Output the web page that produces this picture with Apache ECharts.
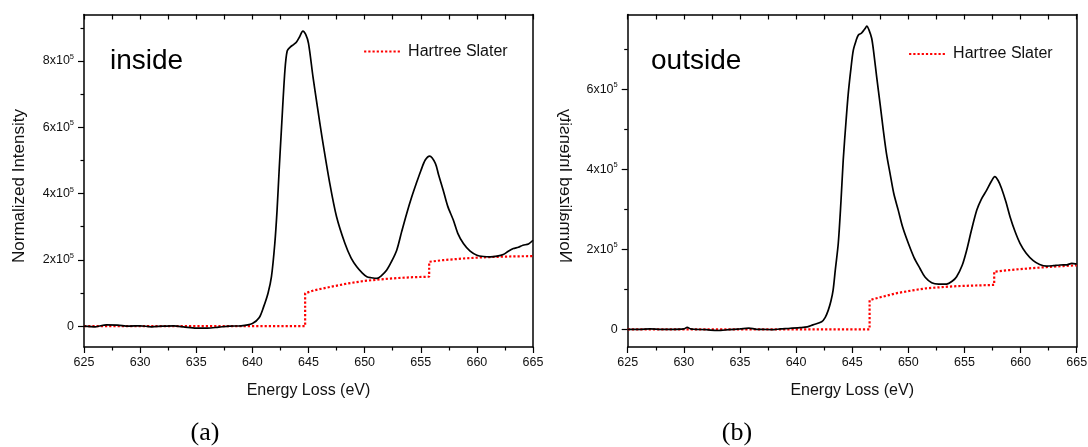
<!DOCTYPE html>
<html>
<head>
<meta charset="utf-8">
<script src="https://cdn.jsdelivr.net/npm/echarts@6/dist/echarts.min.js"></script>
<style>
html,body{margin:0;padding:0;background:#fff;}
#chart{width:1088px;height:447px;}
</style>
</head>
<body>
<div id="chart"></div>
<script>
// ---- data ----
const panelTags = ['inside', 'outside'];
const panelLetters = ['(a)', '(b)'];
const xTickValues = [625, 630, 635, 640, 645, 650, 655, 660, 665];
const leftYTicks = [0, 200000, 400000, 600000, 800000];
const leftYMinor = [100000, 300000, 500000, 700000, 900000];
const rightYTicks = [0, 200000, 400000, 600000];
const rightYMinor = [100000, 300000, 500000, 700000];

const insideE = [625,626,627,628,629,630,631,632,633,634,635,636,637,638,639,640,640.6,641.0,641.4,641.7,642.0,642.2,642.4,642.6,642.9,643.1,643.35,643.7,643.95,644.2,644.5,644.75,645.0,645.4,645.8,646.2,646.9,647.5,648.25,648.8,649.3,649.8,650.2,650.6,651.1,651.5,651.97,652.4,652.86,653.3,653.75,654.2,654.6,655.0,655.4,655.8,656.3,656.6,657.0,657.4,657.9,658.3,658.8,659.4,660.0,660.6,661.2,661.8,662.35,662.8,663.25,663.7,664.1,664.6,665];
const insideV = [0,-2000,4000,3000,0,1000,-2000,0,1000,-3000,-6000,-6000,-3000,0,1000,8000,25000,58000,100000,149000,250000,350000,480000,601000,772000,830000,841000,850000,858000,872000,890000,880000,853000,752000,660000,571000,430000,330000,249000,205000,179000,160000,149000,146000,144000,152000,169000,195000,229000,285000,340000,390000,430000,468000,501000,513000,491000,455000,410000,362000,320000,280000,249000,226000,214000,210000,209000,211000,216000,226000,234000,238000,244000,248000,259000];

const insideHsE = [625,644.7,644.7,645.5,646.9,648.4,649.9,651.4,652.9,654.3,655.75,655.75,657,658.8,660.3,661.8,663.4,665];
const insideHsV = [0,0,99000,108000,118000,128000,136000,141000,145000,147500,149000,194000,199000,204000,207000,209000,210500,211000];

const outsideE = [625,626,627,628,629,630,630.3,630.6,631,632,633,634,635,635.8,636.5,637,638,638.6,639.3,640.35,641.0,641.5,642.28,642.6,642.87,643.1,643.3,643.5,643.76,644.0,644.2,644.45,644.65,644.9,645.1,645.35,645.55,645.8,645.99,646.15,646.3,646.5,646.74,646.95,647.18,647.5,647.77,648.05,648.37,648.7,649.1,649.5,650.0,650.5,651.04,651.5,652.08,652.7,653.4,653.9,654.3,654.8,655.2,655.6,656.1,656.5,656.98,657.4,657.7,658.0,658.3,658.7,659.06,659.5,659.95,660.5,661.13,661.7,662.33,662.9,663.5,664.1,664.56,665];
const outsideV = [0,0,1000,0,0,1000,5000,1000,0,-1000,-3000,-1000,1000,3000,0,0,-1000,1000,2000,4000,6000,11000,19000,30000,48000,70000,98000,150000,215000,320000,423000,520000,590000,655000,698000,722000,736000,740000,746000,752000,758000,748000,727000,685000,631000,560000,498000,440000,390000,340000,298000,255000,215000,180000,152000,130000,116500,113000,113000,120000,131500,160000,198000,245000,298000,325000,348000,370000,381500,372000,352500,318000,281500,245000,215000,190000,171500,162000,158000,159000,160750,161000,165000,163000];

const outsideHsE = [625,646.55,646.55,647.5,648.9,650.3,651.6,653,654.35,656,657.65,657.65,659,660.8,662.3,663.8,665];
const outsideHsV = [0,0,73000,80000,90000,97000,102500,105500,108000,109500,111000,144000,148000,152500,155500,158000,160000];

// ---- helpers ----
const FONT = '"Liberation Sans", Arial, sans-serif';
const zip = (a, b) => a.map((x, i) => [x, b[i]]);

function yLabel(v) {
  if (v === 0) return '{b|0}';
  return '{b|' + (v / 100000) + 'x10}{s|5}';
}

const gridTop = 14.5, gridH = 332.5, gridW = 449;
const gridLefts = [84, 627.7];
const yMins = [-63000, -44250];
const yMaxs = [940000, 787000];
const yMajor = [leftYTicks, rightYTicks];
const yMinor = [leftYMinor, rightYMinor];

const grids = [], xAxes = [], yAxes = [];
for (let g = 0; g < 2; g++) {
  grids.push({left: gridLefts[g], top: gridTop, width: gridW, height: gridH, outerBoundsMode: 'none', containLabel: false});
  xAxes.push({
    type: 'value', gridIndex: g, position: 'bottom', min: 625, max: 665, interval: 5,
    axisLine: {show: true, onZero: false, lineStyle: {color: '#000', width: 1.5}},
    axisTick: {show: true, inside: false, length: 6, lineStyle: {color: '#000', width: 1.2}},
    minorTick: {show: true, splitNumber: 2, length: 3.5, lineStyle: {color: '#000', width: 1.2}},
    axisLabel: {show: true, margin: 9, fontSize: 12.5, color: '#111', fontFamily: FONT},
    splitLine: {show: false},
    name: 'Energy Loss (eV)', nameLocation: 'middle', nameGap: 36,
    nameTextStyle: {fontSize: 16, color: '#111', fontFamily: FONT}
  });
  xAxes.push({
    type: 'value', gridIndex: g, position: 'top', min: 625, max: 665, interval: 2.5,
    axisLine: {show: true, onZero: false, lineStyle: {color: '#000', width: 1.5}},
    axisTick: {show: true, inside: true, length: 5, lineStyle: {color: '#000', width: 1.2}},
    axisLabel: {show: false}, splitLine: {show: false}
  });
  yAxes.push({
    type: 'value', gridIndex: g, position: 'left', min: yMins[g], max: yMaxs[g],
    axisLine: {show: true, onZero: false, lineStyle: {color: '#000', width: 1.5}},
    axisTick: {show: true, inside: false, length: 6, customValues: yMajor[g], lineStyle: {color: '#000', width: 1.2}},
    axisLabel: {
      show: true, margin: 10, customValues: yMajor[g], formatter: yLabel,
      rich: {
        b: {fontSize: 12.5, color: '#111', fontFamily: FONT, lineHeight: 16},
        s: {fontSize: 7.5, color: '#111', fontFamily: FONT, verticalAlign: 'top', lineHeight: 9}
      }
    },
    splitLine: {show: false}
  });
  yAxes.push({
    type: 'value', gridIndex: g, position: 'left', min: yMins[g], max: yMaxs[g],
    axisLine: {show: false},
    axisTick: {show: true, inside: false, length: 3.5, customValues: yMinor[g], lineStyle: {color: '#000', width: 1.2}},
    axisLabel: {show: false}, splitLine: {show: false}
  });
  yAxes.push({
    type: 'value', gridIndex: g, position: 'right', min: yMins[g], max: yMaxs[g],
    axisLine: {show: true, onZero: false, lineStyle: {color: '#000', width: 1.5}},
    axisTick: {show: false}, axisLabel: {show: false}, splitLine: {show: false}
  });
}

const blackStyle = {color: '#000', width: 1.7};
const hsStyle = {color: '#ff0000', width: 2.2, type: [2.2, 2]};

const series = [
  {name: panelTags[0], type: 'line', xAxisIndex: 0, yAxisIndex: 0, data: zip(insideE, insideV), showSymbol: false, symbol: 'none', smooth: 0.3, lineStyle: blackStyle, itemStyle: {color: '#000'}, z: 3},
  {name: 'Hartree Slater', type: 'line', xAxisIndex: 0, yAxisIndex: 0, data: zip(insideHsE, insideHsV), showSymbol: false, symbol: 'none', lineStyle: hsStyle, itemStyle: {color: '#ff0000'}, z: 2},
  {name: panelTags[1], type: 'line', xAxisIndex: 2, yAxisIndex: 3, data: zip(outsideE, outsideV), showSymbol: false, symbol: 'none', smooth: 0.3, lineStyle: blackStyle, itemStyle: {color: '#000'}, z: 3},
  {name: 'Hartree Slater ', type: 'line', xAxisIndex: 2, yAxisIndex: 3, data: zip(outsideHsE, outsideHsV), showSymbol: false, symbol: 'none', lineStyle: hsStyle, itemStyle: {color: '#ff0000'}, z: 2}
];

const legendCommon = {
  orient: 'horizontal', itemWidth: 36, itemHeight: 14, selectedMode: false, padding: 0,
  itemStyle: {opacity: 0},
  lineStyle: {color: '#ff0000', width: 2.2, type: [2.2, 2]},
  textStyle: {fontSize: 16, color: '#111', fontFamily: FONT, padding: [0, 0, 0, 3]}
};

const option = {
  backgroundColor: '#fff',
  animation: false,
  grid: grids,
  xAxis: xAxes,
  yAxis: yAxes,
  legend: [
    Object.assign({}, legendCommon, {left: 363, top: 43.5, data: ['Hartree Slater']}),
    Object.assign({}, legendCommon, {left: 908, top: 46, data: ['Hartree Slater '], formatter: n => n.trim()})
  ],
  graphic: [
    {type: 'text', x: 19, y: 186, rotation: Math.PI / 2,
      style: {text: 'Normalized Intensity', fontSize: 17, fontFamily: FONT, fill: '#111', align: 'center', verticalAlign: 'middle'}},
    {type: 'text', x: 565, y: 186, rotation: Math.PI / 2, scaleY: -1,
      style: {text: 'Normalized Intensity', fontSize: 17, fontFamily: FONT, fill: '#111', align: 'center', verticalAlign: 'middle'}},
    {type: 'text', x: 110, y: 61,
      style: {text: panelTags[0], fontSize: 28, fontFamily: FONT, fill: '#000', align: 'left', verticalAlign: 'middle'}},
    {type: 'text', x: 651, y: 61,
      style: {text: panelTags[1], fontSize: 28, fontFamily: FONT, fill: '#000', align: 'left', verticalAlign: 'middle'}},
    {type: 'text', x: 205, y: 433,
      style: {text: panelLetters[0], fontSize: 26, fontFamily: '"Liberation Serif", "Times New Roman", serif', fill: '#000', align: 'center', verticalAlign: 'middle'}},
    {type: 'text', x: 737, y: 433,
      style: {text: panelLetters[1], fontSize: 26, fontFamily: '"Liberation Serif", "Times New Roman", serif', fill: '#000', align: 'center', verticalAlign: 'middle'}}
  ],
  series: series
};

const chart = echarts.init(document.getElementById('chart'), null, {renderer: 'canvas'});
chart.setOption(option);
</script>
</body>
</html>
